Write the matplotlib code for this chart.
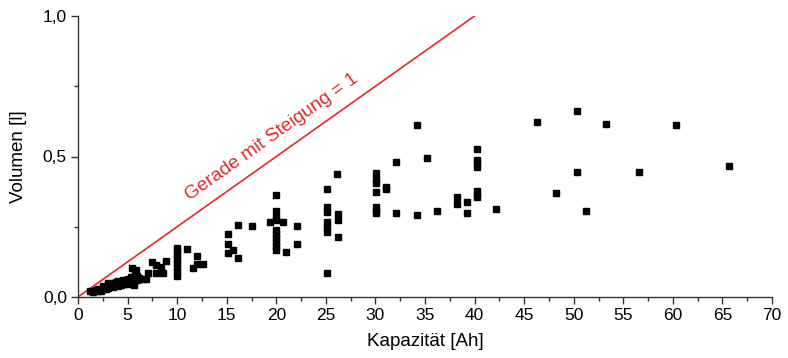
import matplotlib
matplotlib.use("Agg")
import matplotlib.pyplot as plt
import numpy as np
from matplotlib.ticker import MultipleLocator, FuncFormatter

plt.rcParams['font.family'] = ['Liberation Sans', 'DejaVu Sans']

# Kapazitaet [Ah] / Volumen [l]
cap_small = [1.2, 1.5, 1.8, 2.0, 2.0, 2.2, 2.3, 2.5, 2.5, 2.6, 2.8, 3.0, 3.0, 3.0,
             3.2, 3.3, 3.5, 3.5, 3.6, 3.8, 4.0, 4.0, 4.0, 4.2, 4.3, 4.5, 4.5, 4.6,
             4.8, 5.0, 5.0, 5.0, 5.2, 5.3, 5.5, 5.5, 5.8, 6.0, 6.0, 6.2]
vol_small = [0.021, 0.018, 0.025, 0.020, 0.030, 0.028, 0.022, 0.030, 0.040, 0.035,
             0.028, 0.032, 0.042, 0.050, 0.038, 0.045, 0.035, 0.050, 0.042, 0.055,
             0.040, 0.048, 0.058, 0.050, 0.044, 0.055, 0.062, 0.048, 0.060, 0.045,
             0.055, 0.065, 0.050, 0.070, 0.060, 0.072, 0.065, 0.060, 0.075, 0.068]

cap_mid = [5.4, 5.9, 5.7, 5.6, 5.6, 6.3, 6.6, 6.9, 7.1, 7.5, 7.9, 7.9, 8.4, 8.6, 8.9,
           10, 10, 10, 10, 10, 10, 10, 10, 11.0, 11.6, 12.0, 12.0, 12.6,
           15.1, 15.1, 15.1, 15.6, 16.1, 16.1, 17.6]
vol_mid = [0.102, 0.096, 0.084, 0.055, 0.043, 0.063, 0.063, 0.063, 0.084, 0.126,
           0.114, 0.084, 0.108, 0.084, 0.129,
           0.075, 0.090, 0.105, 0.120, 0.135, 0.150, 0.163, 0.173, 0.171, 0.102,
           0.146, 0.117, 0.117,
           0.223, 0.188, 0.158, 0.167, 0.256, 0.138, 0.253]

cap_large = [20.0, 20.0, 20.0, 20.0, 19.4, 20.7, 20.0, 20.0, 20.0, 20.0, 20.0, 20.0,
             21.0, 22.1, 22.1,
             25.1, 25.1, 25.1, 25.1, 25.1, 25.1, 25.1, 26.2, 26.2, 26.2, 26.1,
             30.1, 30.1, 30.1, 30.1, 31.1, 31.1, 30.1, 30.1, 30.1, 32.1, 32.1,
             34.2, 34.2, 35.2, 36.2, 38.2, 38.2, 39.2, 39.2,
             40.2, 40.2, 40.2, 40.2, 40.2, 40.2, 40.2, 42.2,
             46.3, 48.2, 50.3, 50.3, 51.2, 53.3, 56.6, 60.3, 65.7]
vol_large = [0.363, 0.306, 0.286, 0.274, 0.268, 0.268, 0.238, 0.225, 0.210, 0.195,
             0.180, 0.167, 0.159, 0.253, 0.189,
             0.383, 0.321, 0.304, 0.268, 0.250, 0.233, 0.084, 0.295, 0.274, 0.215,
             0.436,
             0.440, 0.419, 0.407, 0.375, 0.393, 0.383, 0.321, 0.310, 0.300, 0.480,
             0.300, 0.612, 0.291, 0.494, 0.305, 0.355, 0.332, 0.337, 0.298,
             0.527, 0.488, 0.476, 0.462, 0.377, 0.368, 0.357, 0.313,
             0.624, 0.371, 0.662, 0.446, 0.305, 0.616, 0.446, 0.612, 0.466]

cap = cap_small + cap_mid + cap_large
vol = vol_small + vol_mid + vol_large

line_x = [0, 40]
line_y = [0, 1.0]

fig = plt.figure(figsize=(7.88, 3.58), dpi=100)
ax = fig.add_axes([78 / 788, 61 / 358, 694 / 788, 281 / 358])

ax.plot(line_x, line_y, color='#e8262b', lw=1.2, zorder=2)
ax.plot(cap, vol, ls='none', marker='s', ms=3.8, color='black', zorder=3)

ax.set_xlim(0, 70)
ax.set_ylim(0, 1.0)
ax.xaxis.set_major_locator(MultipleLocator(5))
ax.xaxis.set_minor_locator(MultipleLocator(2.5))
ax.yaxis.set_major_locator(MultipleLocator(0.5))
ax.yaxis.set_minor_locator(MultipleLocator(0.25))
ax.yaxis.set_major_formatter(FuncFormatter(lambda v, p: f"{v:.1f}".replace('.', ',')))

for s in ['top', 'right']:
    ax.spines[s].set_visible(False)
for s in ['left', 'bottom']:
    ax.spines[s].set_color('#333333')
    ax.spines[s].set_linewidth(1.0)
ax.tick_params(which='major', direction='out', length=5, width=1.0, color='#333333',
               labelsize=12.5, pad=3)
ax.tick_params(which='minor', direction='out', length=3, width=1.0, color='#333333')

ax.set_xlabel('Kapazität [Ah]', fontsize=13.5, labelpad=7)
ax.set_ylabel('Volumen [l]', fontsize=13.5, labelpad=11)

# Winkel der Geraden in Bildschirmkoordinaten
p0 = ax.transData.transform((0, 0))
p1 = ax.transData.transform((40, 1.0))
ang = np.degrees(np.arctan2(p1[1] - p0[1], p1[0] - p0[0]))
ax.text(19.5, 0.57, 'Gerade mit Steigung = 1', color='#e8262b', fontsize=13.8,
        rotation=ang, rotation_mode='anchor', ha='center', va='center')

fig.savefig('out.png', dpi=100)
